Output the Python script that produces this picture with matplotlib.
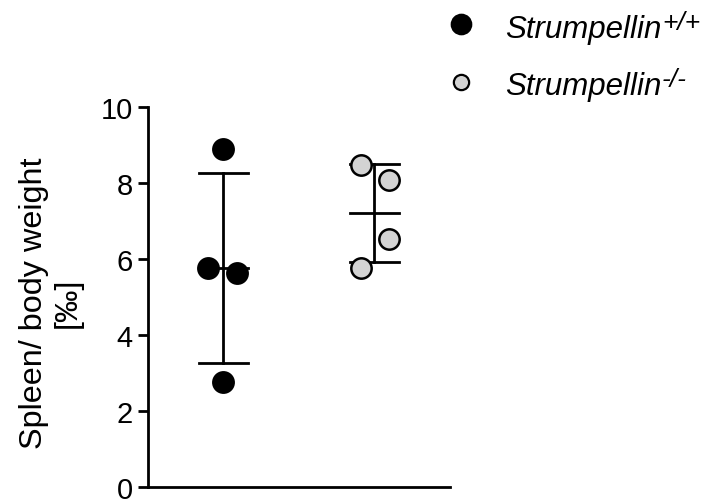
import matplotlib.pyplot as plt
import numpy as np

plt.rcParams["font.family"] = ["Liberation Sans", "DejaVu Sans"]

# Data (spleen / body weight, per mille)
groups = ["Strumpellin", "Strumpellin"]
genotypes = ["+/+", "-/-"]
wt_values = [8.89, 5.76, 5.63, 2.76]
ko_values = [8.47, 8.08, 6.53, 5.76]
wt_offsets = [0.0, -0.10, 0.09, 0.0]
ko_offsets = [-0.09, 0.10, 0.10, -0.09]
face_colors = ["black", "#d3d3d3"]
yticks = [0, 2, 4, 6, 8, 10]

fig = plt.figure(figsize=(7.15, 5.02), dpi=100)
ax = fig.add_axes([0.207, 0.028, 0.422, 0.757])

for i, (vals, offs, fc) in enumerate(zip([wt_values, ko_values],
                                         [wt_offsets, ko_offsets], face_colors)):
    vals = np.array(vals)
    m = vals.mean()
    sd = vals.std(ddof=1)
    # error bar (SD) and mean line
    ax.plot([i, i], [m - sd, m + sd], color="black", lw=2, zorder=2)
    for y in (m - sd, m, m + sd):
        ax.plot([i - 0.162, i + 0.162], [y, y], color="black", lw=2, zorder=2)
    ax.scatter(i + np.array(offs), vals, s=215, facecolor=fc,
               edgecolor="black", linewidth=1.8, zorder=3, clip_on=False)

ax.set_xlim(-0.5, 1.5)
ax.set_ylim(0, 10)
ax.set_yticks(yticks)
ax.set_xticks([])
ax.tick_params(axis="y", length=7, width=2, labelsize=21, pad=4)
for s in ["top", "right"]:
    ax.spines[s].set_visible(False)
for s in ["left", "bottom"]:
    ax.spines[s].set_linewidth(2)
ax.set_ylabel("Spleen/ body weight\n[‰]", fontsize=23.3, linespacing=1.2)
ax.yaxis.set_label_coords(-0.215, 0.487)

# legend drawn by hand so the superscripts match the reference
marker_y = [0.950, 0.835]
text_y = [0.924, 0.811]
fig.canvas.draw()
renderer = fig.canvas.get_renderer()
for my, ty, fc, name, gt, ms in zip(marker_y, text_y, face_colors, groups,
                                    genotypes, [14, 11]):
    fig.lines.append(plt.Line2D([0.645], [my], transform=fig.transFigure,
                                ls="", marker="o", markersize=ms,
                                markerfacecolor=fc, markeredgecolor="black",
                                markeredgewidth=1.6))
    t = fig.text(0.706, ty, name, fontsize=22.5, style="italic",
                 va="baseline", ha="left")
    bb = t.get_window_extent(renderer).transformed(fig.transFigure.inverted())
    fig.text(bb.x1 + 0.001, ty + 0.016, gt, fontsize=19, style="italic",
             va="baseline", ha="left")

fig.savefig("out.png", dpi=100)
